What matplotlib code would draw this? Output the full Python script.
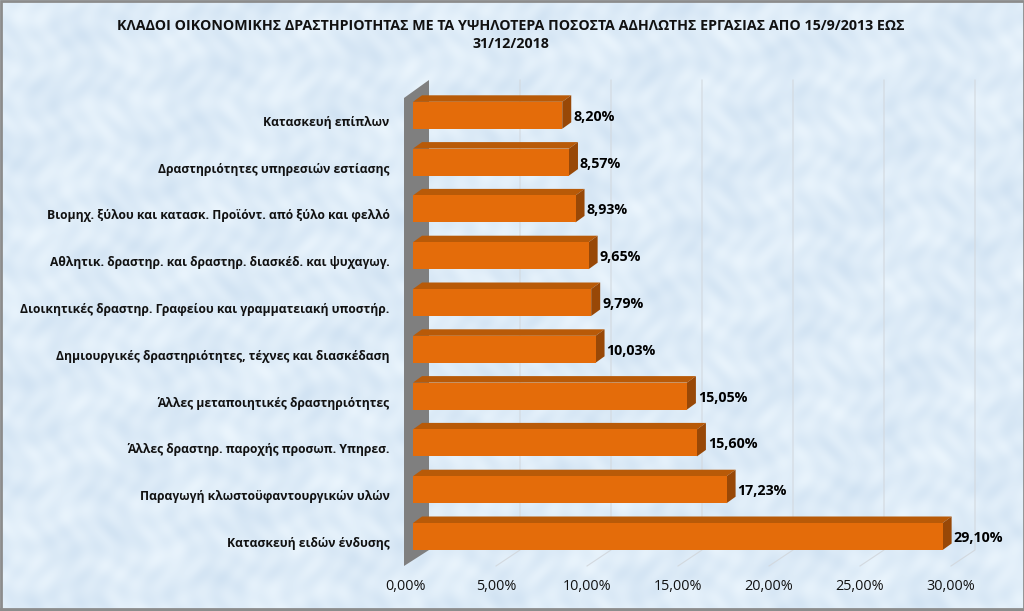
import matplotlib
matplotlib.use('Agg')
import matplotlib.pyplot as plt
from matplotlib.patches import Polygon
from matplotlib.transforms import ScaledTranslation
import numpy as np

plt.rcParams['font.family'] = ['Open Sans', 'DejaVu Sans']

# Data, bottom bar first
categories = ["Κατασκευή ειδών ένδυσης",
              "Παραγωγή κλωστοϋφαντουργικών υλών",
              "Άλλες δραστηρ. παροχής προσωπ. Υπηρεσ.",
              "Άλλες μεταποιητικές δραστηριότητες",
              "Δημιουργικές δραστηριότητες, τέχνες και διασκέδαση",
              "Διοικητικές δραστηρ. Γραφείου και γραμματειακή υποστήρ.",
              "Αθλητικ. δραστηρ. και δραστηρ. διασκέδ. και ψυχαγωγ.",
              "Βιομηχ. ξύλου και κατασκ. Προϊόντ. από ξύλο και φελλό",
              "Δραστηριότητες υπηρεσιών εστίασης",
              "Κατασκευή επίπλων"]
values = [29.10, 17.23, 15.60, 15.05, 10.03, 9.79, 9.65, 8.93, 8.57, 8.20]
xticks = [0, 5, 10, 15, 20, 25, 30]
xticklabels = ["0,00%", "5,00%", "10,00%", "15,00%", "20,00%", "25,00%", "30,00%"]
title = "ΚΛΑΔΟΙ ΟΙΚΟΝΟΜΙΚΗΣ ΔΡΑΣΤΗΡΙΟΤΗΤΑΣ ΜΕ ΤΑ ΥΨΗΛΟΤΕΡΑ ΠΟΣΟΣΤΑ ΑΔΗΛΩΤΗΣ ΕΡΓΑΣΙΑΣ ΑΠΟ 15/9/2013 ΕΩΣ\n31/12/2018"

W, H = 1024, 611
fig = plt.figure(figsize=(W / 100, H / 100), dpi=100)

# pale blue background with soft mottling, grey frame
bg = fig.add_axes([0, 0, 1, 1], zorder=0)
yy, xx = np.mgrid[0:H, 0:W]
mottle = (np.sin(xx / 23 + yy / 41) + np.sin(xx / 11 - yy / 17) + np.sin(xx / 67 + yy / 9)
          + np.sin(xx / 3.7 + np.sin(yy / 13) * 3) + np.sin(yy / 4.3 - np.sin(xx / 19) * 3)) / 5
base = np.array([0.87, 0.925, 0.972])
img = base[None, None, :] + mottle[:, :, None] * np.array([0.05, 0.036, 0.02])
bg.imshow(np.clip(img, 0, 1), extent=[0, W, H, 0], aspect='auto')
bg.set_xlim(0, W)
bg.set_ylim(H, 0)
bg.axis('off')
bg.add_patch(plt.Rectangle((0.5, 0.5), W - 1, H - 1, fill=False, ec='#8c8c8c', lw=2))
bg.plot([0, W], [609, 609], color='#8c8c8c', lw=2)

# axes spanning the plot area, scale 18.2 px per percent, 46.8 px per bar
left, right, top, bottom = 404, 990, 70, 570
ax = fig.add_axes([left / W, 1 - bottom / H, (right - left) / W, (bottom - top) / H], zorder=1)
ax.patch.set_alpha(0)
px_x = 18.2
px_y = 46.8
ax.set_xlim((left - 413) / px_x, (right - 413) / px_x)
ax.set_ylim((536.5 - bottom) / px_y, (536.5 - top) / px_y)
for s in ax.spines.values():
    s.set_visible(False)

y = np.arange(len(values))
bar_h = 27 / px_y
dx = 9 / px_x        # bar depth
dy = 6.5 / px_y
wall_dx = 16 / px_x  # back wall offset
floor_y = (536.5 - 566) / px_y
back_y = (536.5 - 550) / px_y
wall_top = (536.5 - 80) / px_y

# gridlines on the back wall and the floor
for t in xticks[1:]:
    ax.plot([t - 8 / px_x, t + wall_dx, t + wall_dx], [floor_y, back_y, wall_top],
            color='#d3d9df', lw=0.8, zorder=1)

# grey side wall
x0 = -9 / px_x
ax.add_patch(Polygon([(x0, floor_y), (wall_dx, back_y), (wall_dx, wall_top),
                      (x0, wall_top - 18 / px_y)], color='#7f7f7f', lw=0, zorder=2))

# 3d bars
ax.barh(y, values, height=bar_h, color='#e46c0a', zorder=4)
for yi, v in zip(y, values):
    t = yi + bar_h / 2
    b = yi - bar_h / 2
    ax.add_patch(Polygon([(0, t), (dx, t + dy), (v + dx, t + dy), (v, t)],
                         color='#b85a08', lw=0, zorder=3))
    ax.add_patch(Polygon([(v, b), (v + dx, b + dy), (v + dx, t + dy), (v, t)],
                         color='#984807', lw=0, zorder=3))
    ax.text(v + 11 / px_x, yi - 1.5 / px_y, f"{v:.2f}%".replace('.', ','), fontsize=10.3,
            fontweight='bold', va='center', ha='left', color='black', zorder=5)

ax.set_yticks(y)
ax.set_yticklabels(categories, fontsize=8.75, fontweight='bold', color='#111111')
ax.set_xticks(xticks)
ax.set_xticklabels(xticklabels, fontsize=10.4, color='#111111')
ax.tick_params(axis='both', length=0)
ax.tick_params(axis='y', pad=10.4)
ax.tick_params(axis='x', pad=6.5)
for lab in ax.get_xticklabels():
    lab.set_transform(lab.get_transform() + ScaledTranslation(-8 / 100, 0, fig.dpi_scale_trans))
for lab in ax.get_yticklabels():
    lab.set_transform(lab.get_transform() + ScaledTranslation(0, -5.5 / 100, fig.dpi_scale_trans))

fig.text(511 / W, 1 - 35 / H, title, ha='center', va='center', fontsize=10.3,
         fontweight='bold', color='#111111', linespacing=1.4)

plt.savefig('out.png', dpi=100)
